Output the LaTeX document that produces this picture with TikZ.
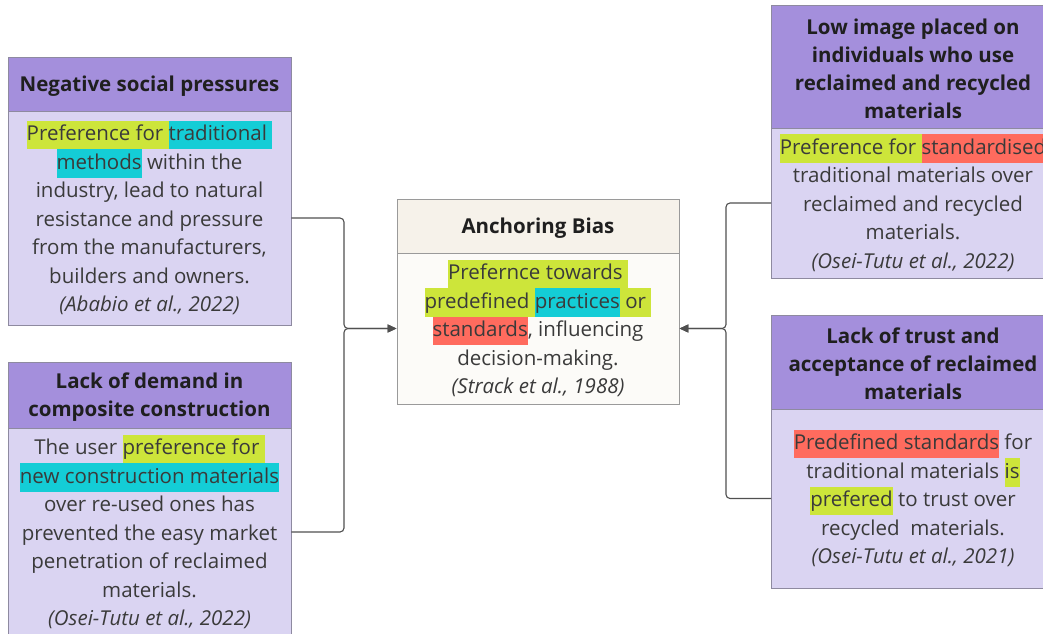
\documentclass[tikz,border=0pt]{standalone}
\usepackage{fontspec}
\setmainfont{Open Sans}
\usetikzlibrary{arrows.meta,calc}

\definecolor{hdrPurple}{HTML}{A48FDC}
\definecolor{bodyLav}{HTML}{DAD4F2}
\definecolor{edgeGray}{HTML}{8E8AA0}
\definecolor{ancHdr}{HTML}{F6F2EA}
\definecolor{ancBody}{HTML}{FCFBF8}
\definecolor{ancEdge}{HTML}{9A9A9A}
\definecolor{hlYellow}{HTML}{CDE53A}
\definecolor{hlCyan}{HTML}{14CDD6}
\definecolor{hlRed}{HTML}{FF6B5E}
\definecolor{txtBody}{HTML}{3A3A3A}
\definecolor{txtHead}{HTML}{1F1F1F}
\definecolor{lineGray}{HTML}{505050}

% text marker: a full-line-height coloured band behind a phrase
\newcommand\hlmark[2]{{\setlength{\fboxsep}{0pt}\colorbox{#1}{\strut#2}}}
% invisible rule giving a title's first line a little extra height
\newcommand\toprule{\rule{0pt}{19.6pt}}

\tikzset{
  panel/.style={draw=edgeGray, line width=0.9pt, inner sep=0pt, align=center},
  head/.style={panel, fill=hdrPurple, text=txtHead,
    font=\fontsize{20.5}{28}\selectfont\bfseries},
  bodytext/.style={panel, fill=bodyLav, text=txtBody,
    font=\fontsize{20.5}{28.5}\selectfont},
  anchead/.style={head, fill=ancHdr, draw=ancEdge},
  ancbody/.style={bodytext, fill=ancBody, draw=ancEdge},
  wideL/.style={minimum width=283pt},
  wideC/.style={minimum width=282pt},
  conn/.style={draw=lineGray, line width=1.1pt, rounded corners=4pt,
    -{Triangle[length=9pt,width=8pt]}},
}

\begin{document}
\begin{tikzpicture}[x=1pt,y=-1pt]
\useasboundingbox (0,0) rectangle (1043,633);
\clip (0,0) rectangle (1043,633);
\fill[white] (0,0) rectangle (1043,633);

% left column
\node[head, wideL, minimum height=54pt] (npH) at (149.5,84) {\toprule Negative social pressures};
\node[bodytext, wideL, minimum height=214pt] (npB) at (149.5,218) {%
\hlmark{hlYellow}{Preference for }\hlmark{hlCyan}{traditional }\\
\hlmark{hlCyan}{methods} within the\\
industry, lead to natural\\
resistance and pressure\\
from the manufacturers,\\
builders and owners.\\
\textit{(Ababio et al., 2022)}};

\node[head, wideL, minimum height=66pt] (ldH) at (149.5,395) {\toprule Lack of demand in\\composite construction};
\node[bodytext, wideL, minimum height=208pt] (ldB) at (149.5,532) {%
The user \hlmark{hlYellow}{preference for }\\
\hlmark{hlCyan}{new construction materials}\\
over re-used ones has\\
prevented the easy market\\
penetration of reclaimed\\
materials.\\
\textit{(Osei-Tutu et al., 2022)}};

% centre
\node[anchead, wideC, minimum height=54pt] (abH) at (538,226) {\toprule Anchoring Bias};
\node[ancbody, wideC, minimum height=151pt] (abB) at (538,328.5) {%
\hlmark{hlYellow}{Prefernce towards }\\
\hlmark{hlYellow}{predefined }\hlmark{hlCyan}{practices}\hlmark{hlYellow}{ or }\\
\hlmark{hlRed}{standards}, influencing\\
decision-making.\\
\textit{(Strack et al., 1988)}};

% right column
\node[head, wideL, minimum height=123pt] (liH) at (913,66.5) {\toprule Low image placed on\\individuals who use\\reclaimed and recycled\\materials};
\node[bodytext, wideL, minimum height=150pt] (liB) at (913,203) {%
\hlmark{hlYellow}{Preference for }\hlmark{hlRed}{standardised}\\
traditional materials over\\
reclaimed and recycled\\
materials.\\
\textit{(Osei-Tutu et al., 2022)}};

\node[head, wideL, minimum height=94pt] (ltH) at (913,362) {\toprule Lack of trust and\\acceptance of reclaimed\\materials};
\node[bodytext, wideL, minimum height=179pt] (ltB) at (913,498.5) {%
\hlmark{hlRed}{Predefined standards} for\\
traditional materials \hlmark{hlYellow}{is}\\
\hlmark{hlYellow}{prefered} to trust over\\
recycled\ \ materials.\\
\textit{(Osei-Tutu et al., 2021)}};

% junction points of the elbow connectors
\coordinate (jL) at (344,328.5);
\coordinate (jR) at (726,328.5);

\draw[conn] (npB.east) -- (npB.east -| jL) |- (abB.west);
\draw[conn] (ldB.east) -- (ldB.east -| jL) |- (abB.west);
\draw[conn] (liB.west) -- (liB.west -| jR) |- (abB.east);
\draw[conn] (ltB.west) -- (ltB.west -| jR) |- (abB.east);
\end{tikzpicture}
\end{document}
